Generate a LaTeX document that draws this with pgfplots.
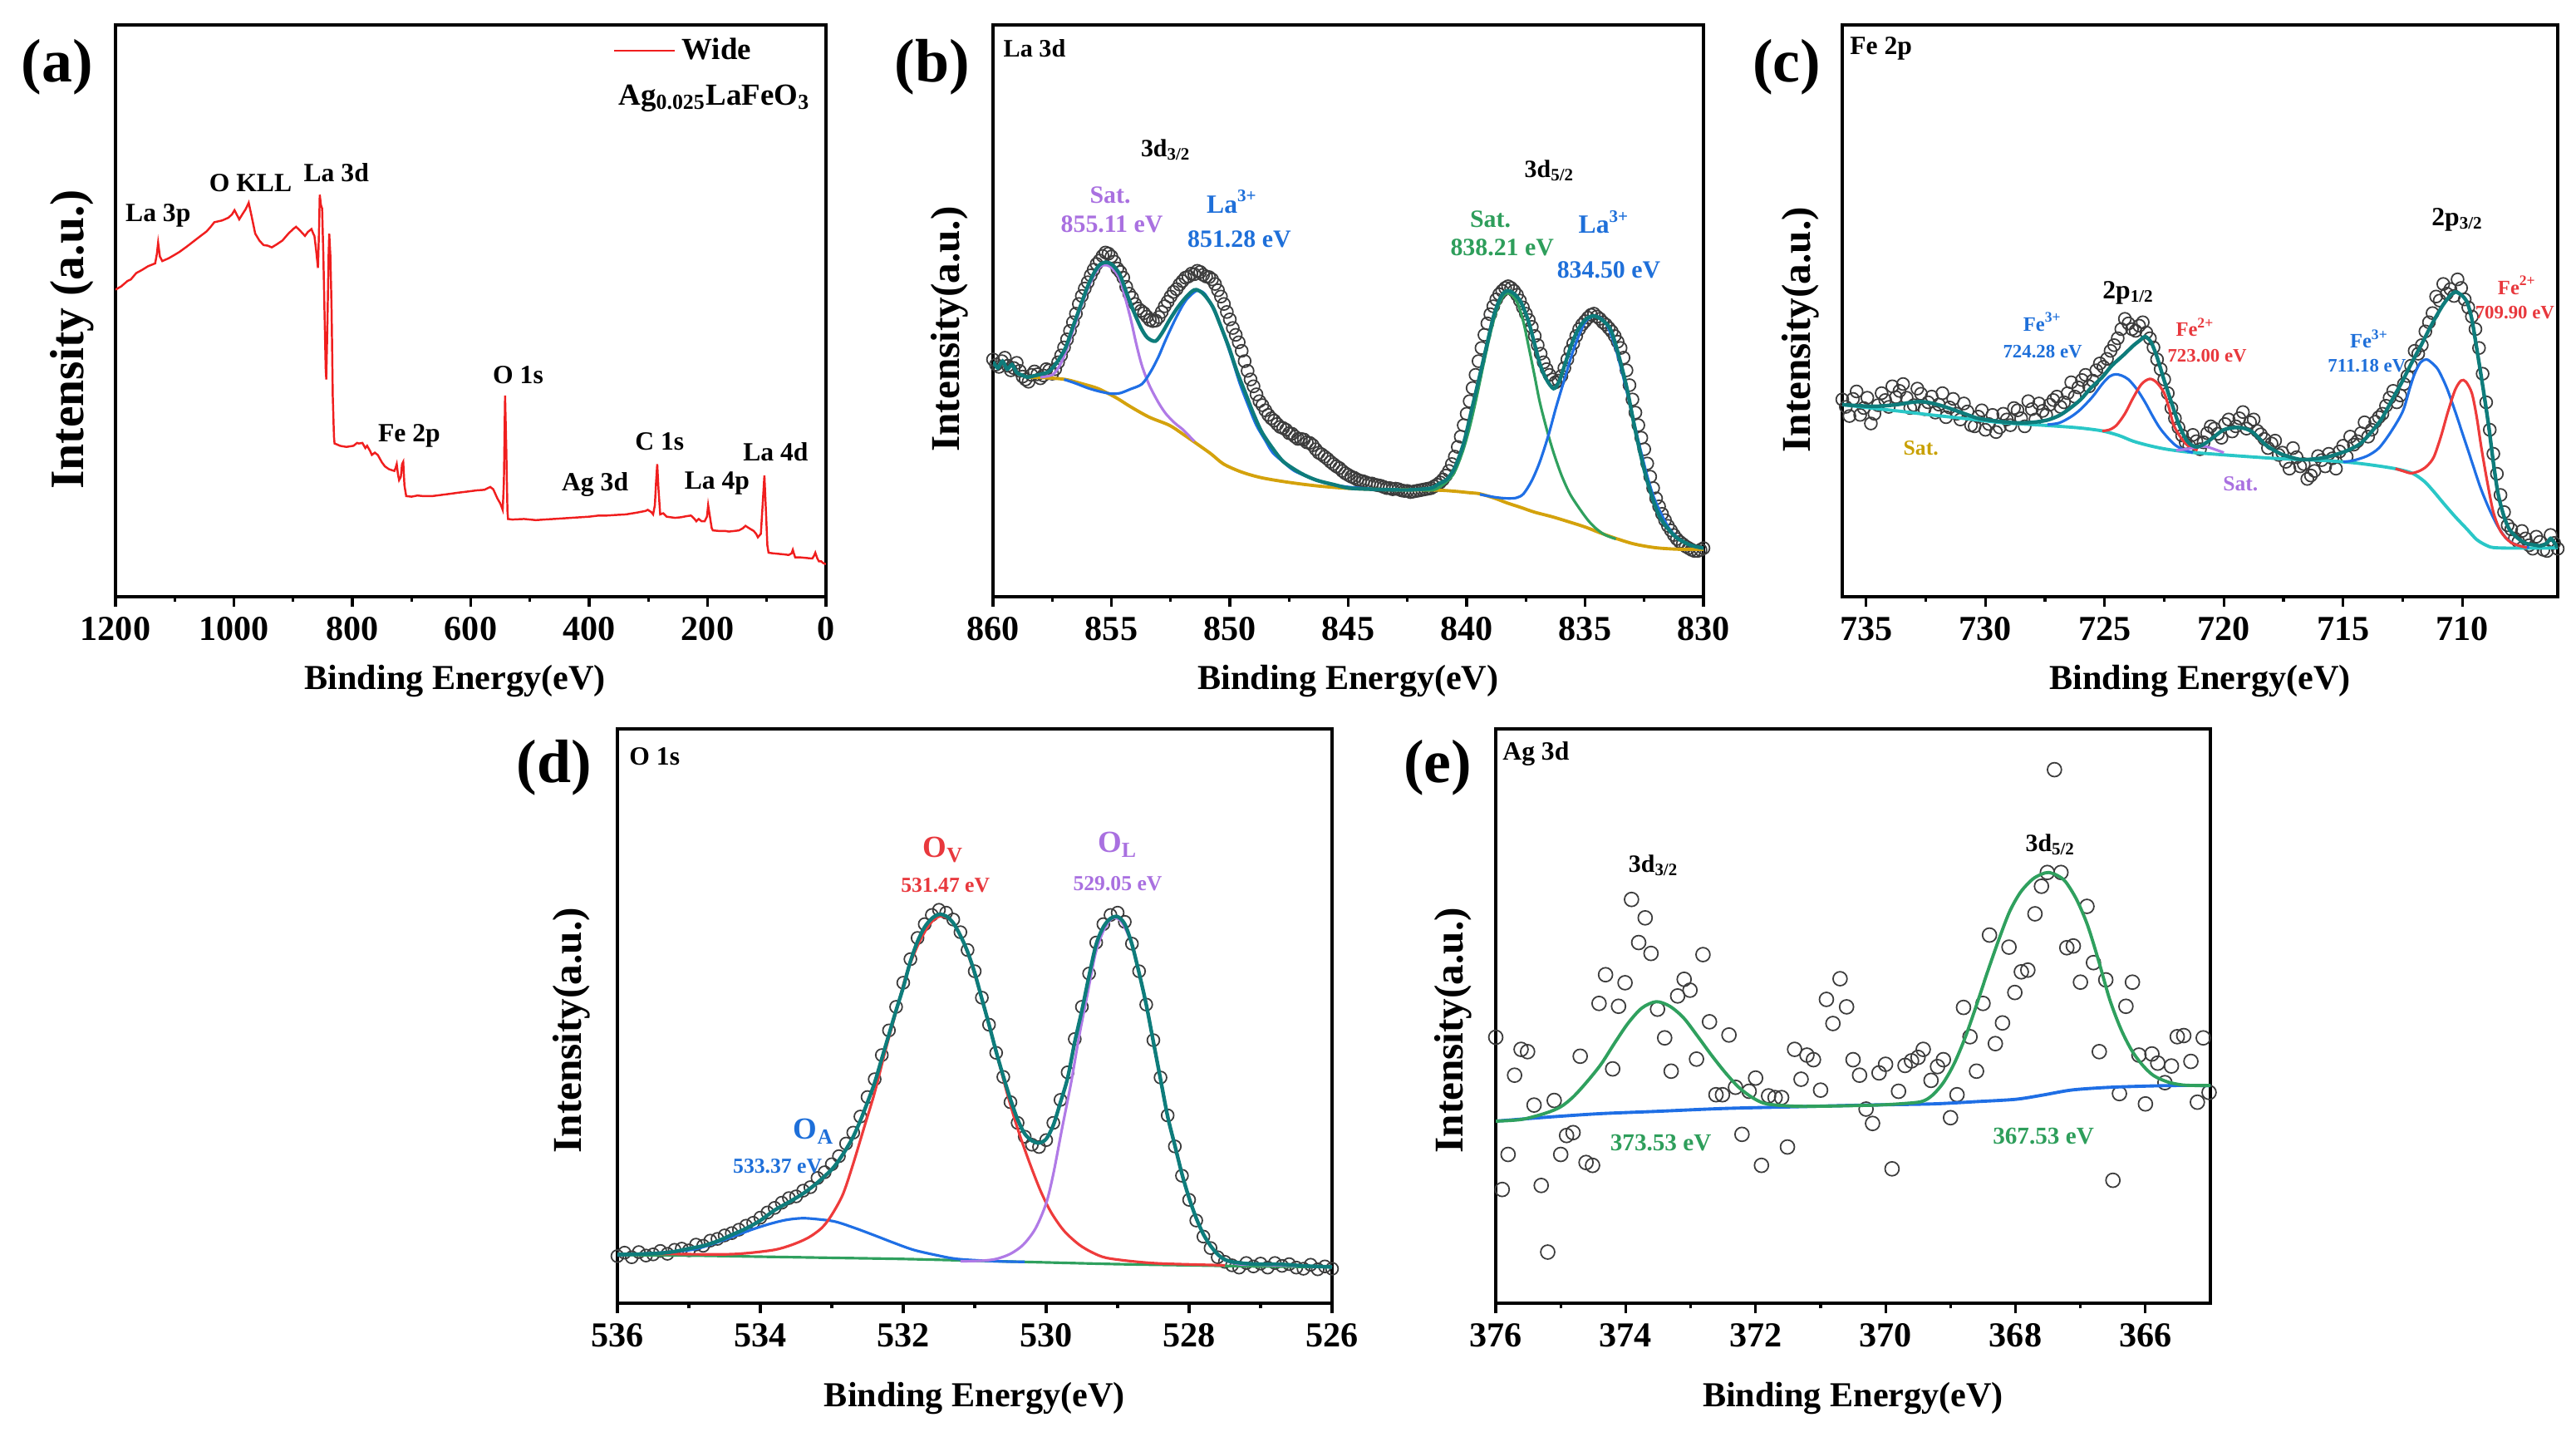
\documentclass[border=0pt]{standalone}
\usepackage{fontspec}
\setmainfont{Liberation Serif}
\usepackage{pgfplots}
\pgfplotsset{compat=1.18}
\newcommand{\fs}[1]{\fontsize{#1}{#1}\selectfont\bfseries}
\definecolor{teal1}{HTML}{0E7C7B}
\definecolor{blu}{HTML}{1F6FE5}
\definecolor{redc}{HTML}{EE3B3B}
\definecolor{purp}{HTML}{B07AE6}
\definecolor{grn}{HTML}{2FA05E}
\definecolor{goldc}{HTML}{D4A20C}
\definecolor{cyanc}{HTML}{2AC7C7}
\definecolor{redw}{HTML}{F01E1E}
\definecolor{circ}{HTML}{3C3C3C}
\definecolor{lblue}{HTML}{1E6FD9}
\definecolor{lpurp}{HTML}{A970E0}
\definecolor{lgrn}{HTML}{2E9E5B}
\definecolor{lred}{HTML}{E8383D}
\definecolor{lgold}{HTML}{C8A000}
\pgfplotsset{
  xps/.style={
    scale only axis, x dir=reverse, ymin=0, ymax=100, ytick=\empty,
    tick align=outside, xtick pos=left, minor x tick num=1,
    major tick length=1.2mm, minor tick length=0.6mm,
    every tick/.style={black, line width=0.9pt},
    axis line style={line width=0.95pt},
    /pgf/number format/assume math mode=true,
    /pgf/number format/1000 sep={},
    xticklabel style={font=\fs{12}},
    xlabel={Binding Energy(eV)},
    xlabel style={font=\fs{12}, anchor=center},
    ylabel style={font=\fs{14}, anchor=center},
    clip mode=individual,
  },
  dat/.style={only marks, mark=o, mark size=2.1pt, mark options={draw=circ, line width=0.5pt}},
  fit/.style={line width=0.9pt, smooth, tension=0.5, no marks},
  env/.style={line width=1.25pt, smooth, tension=0.5, no marks, teal1},
}
\begin{document}
\begin{tikzpicture}
\useasboundingbox (0,0) rectangle (310mm,172.8mm);
% ---------------- (a) ----------------
\begin{axis}[xps, at={(13.9mm,101.0mm)}, anchor=south west, width=85.5mm, height=68.8mm,
  xmin=0, xmax=1200, xtick={0,200,...,1200},
  ylabel={Intensity (a.u.)}, ylabel style={font=\fs{16.4}, at={(axis description cs:-0.061,0.45)}},
  xlabel style={at={(axis description cs:0.478,-0.147)}},
  legend style={draw=none, fill=none, at={(axis description cs:0.700,0.955)}, anchor=west, font=\fs{10.5}, inner sep=0pt},
  legend image code/.code={\draw[#1] (0mm,0mm) -- (7.3mm,0mm);}]
\addplot[redw, line width=0.7pt, no marks] coordinates {
(1200,53.7) (1190,54.3) (1180,55.2) (1174,55.5) (1165,56.6) (1156,57.1) (1145,57.8) (1133,58.3) (1130,60.0) (1128,61.9) (1125,59.5) (1121,58.7) (1110,59.2) (1100,59.8) (1092,60.3) (1080,61.2) (1070,62.0) (1060,62.8) (1046,63.9) (1040,64.6) (1033,65.5) (1020,65.8) (1009,66.3) (1003,66.9) (999,67.6) (995,66.8) (991,66.0) (985,67.0) (980,67.8) (975,68.9) (970,66.5) (964,63.5) (957,62.3) (950,61.5) (943,61.4) (936,61.1) (928,61.6) (918,62.3) (908,63.5) (900,64.3) (895,64.7) (888,64.0) (880,63.1) (875,63.8) (869,64.3) (866,63.5) (864,63.1) (861,60.5) (858,57.5) (856,65) (855,70.3) (853,68.5) (851,67.9) (849,60) (847,50) (845,40) (844,38.0) (842,48) (840,60) (839,63.5) (837,59.5) (835,50) (833,35) (831,28) (830,26.8) (825,26.6) (821,26.4) (810,26.2) (798,26.4) (792,26.9) (789,26.8) (783,26.9) (778,26.0) (775,26.4) (770,25.5) (767,24.8) (762,25.2) (757,24.8) (750,23.5) (745,22.8) (738,22.3) (729,22.0) (727,22.5) (725,23.2) (723,21.5) (721,20.4) (718,21) (716,23.2) (714,23.6) (712,19.5) (709,17.6) (700,17.5) (690,17.7) (680,17.6) (665,17.6) (650,17.8) (635,18.0) (621,18.2) (605,18.4) (590,18.6) (577,18.7) (567,19.2) (562,18.8) (555,17.2) (550,16.3) (546,15.2) (544,20) (542,35.2) (540,26) (538,15) (537,13.6) (530,13.5) (510,13.6) (490,13.4) (476,13.5) (460,13.6) (445,13.7) (430,13.8) (415,13.9) (400,14.0) (384,14.2) (370,14.2) (355,14.3) (338,14.4) (320,14.7) (305,15.0) (301,15.2) (295,14.8) (292,14.4) (289,16) (287,20) (285,23.2) (283,19) (280,14.4) (275,14.6) (269,14.0) (262,13.9) (255,13.8) (245,13.9) (235,14.1) (228,14.2) (222,13.6) (219,13.2) (215,13.6) (210,13.2) (205,13.2) (201,14) (199,16.0) (196,14) (193,12.0) (191,11.6) (180,11.5) (170,11.5) (164,11.4) (155,11.5) (147,11.6) (140,12.0) (136,12.4) (130,12.0) (122,11.5) (118,11.0) (115,10.4) (110,11) (107,16) (104,21.2) (101,14) (99,9) (97,7.7) (90,7.6) (80,7.5) (70,7.4) (63,7.3) (58,7.6) (56,8.2) (54,7.5) (52,6.9) (45,6.9) (35,6.8) (25,6.7) (23,6.7) (20,7.2) (18,7.7) (15,6.8) (12,6.2) (8,6.2) (5,5.9) (0,5.7)};
\addlegendentry{Wide}
\node[font=\fs{10.5}] at (axis description cs:0.843,0.872) {Ag\textsubscript{0.025}LaFeO\textsubscript{3}};
\node[font=\fs{9}] at (axis cs:1128,66.7) {La 3p};
\node[font=\fs{9}] at (axis cs:972,72.4) {O KLL};
\node[font=\fs{9}] at (axis cs:827,74.2) {La 3d};
\node[font=\fs{9}] at (axis cs:704,28.2) {Fe 2p};
\node[font=\fs{9}] at (axis cs:520,38.8) {O 1s};
\node[font=\fs{9}] at (axis cs:390,19.6) {Ag 3d};
\node[font=\fs{9}] at (axis cs:281,27.2) {C 1s};
\node[font=\fs{9}] at (axis cs:184,19.8) {La 4p};
\node[font=\fs{9}] at (axis cs:85,25.4) {La 4d};
\end{axis}
% ---------------- (b) ----------------
\begin{axis}[xps, at={(119.5mm,101.0mm)}, anchor=south west, width=85.5mm, height=68.8mm,
  xmin=830, xmax=860, xtick={830,835,...,860},
  ylabel={Intensity(a.u.)}, ylabel style={at={(axis description cs:-0.061,0.468)}},
  xlabel style={at={(axis description cs:0.5,-0.147)}}]
\addplot[dat] coordinates {
(860.00,41.5) (859.75,40.2) (859.50,41.8) (859.25,39.6) (859.00,40.9) (858.75,38.5) (858.50,37.6) (858.25,39.4) (858.00,38.2) (857.75,39.8) (857.50,39.0) (857.25,41.0) (857.00,43.6) (856.75,46.5) (856.50,49.5) (856.25,52.6) (856.00,55.0) (855.75,57.2) (855.50,58.8) (855.25,60.2) (855.00,59.5) (854.75,57.4) (854.50,55.8) (854.25,53.0) (854.00,51.2) (853.75,50.0) (853.50,49.0) (853.25,48.2) (853.00,48.9) (852.75,50.8) (852.50,52.5) (852.25,53.8) (852.00,55.2) (851.75,56.0) (851.50,56.4) (851.25,56.8) (851.00,56.0) (850.75,55.5) (850.50,53.6) (850.25,51.2) (850.00,48.5) (849.75,45.8) (849.50,43.0) (849.25,39.5) (849.00,36.8) (848.75,34.2) (848.50,32.6) (848.25,31.2) (848.00,30.2) (847.75,29.5) (847.50,28.6) (847.25,28.0) (847.00,27.6) (846.75,27.0) (846.50,26.5) (846.25,25.2) (846.00,24.5) (845.75,23.6) (845.50,22.8) (845.25,22.0) (845.00,21.3) (844.75,20.8) (844.50,20.3) (844.25,20.0) (844.00,19.8) (843.75,19.5) (843.50,19.2) (843.25,19.0) (843.00,18.9) (842.75,18.6) (842.50,18.5) (842.25,18.4) (842.00,18.6) (841.75,18.8) (841.50,19.0) (841.25,19.6) (841.00,20.5) (840.75,22.0) (840.50,24.5) (840.25,28.0) (840.00,32.0) (839.75,36.5) (839.50,41.2) (839.25,45.8) (839.00,49.4) (838.75,52.0) (838.50,53.5) (838.25,54.3) (838.00,53.5) (837.75,51.8) (837.50,49.5) (837.25,47.2) (837.00,44.0) (836.75,41.0) (836.50,38.8) (836.25,37.5) (836.00,38.6) (835.75,41.5) (835.50,44.3) (835.25,46.8) (835.00,48.2) (834.75,49.3) (834.50,49.0) (834.25,48.0) (834.00,47.0) (833.75,45.6) (833.50,43.5) (833.25,39.6) (833.00,34.5) (832.75,30.0) (832.50,25.8) (832.25,21.0) (832.00,17.2) (831.75,14.5) (831.50,12.4) (831.25,10.8) (831.00,9.6) (830.75,8.8) (830.50,8.2) (830.25,8.0) (830.00,8.5)
(859.875,40.6) (859.625,41.2) (859.375,40.4) (859.125,40.0) (858.875,39.5) (858.625,38.0) (858.375,38.8) (858.125,38.9) (857.875,38.7) (857.625,39.6) (857.375,39.8) (857.125,42.2) (856.875,45.0) (856.625,48.0) (856.375,51.2) (856.125,53.9) (855.875,56.2) (855.625,58.2) (855.375,59.6) (855.125,60.0) (854.875,58.6) (854.625,56.8) (854.375,54.2) (854.125,52.3) (853.875,50.4) (853.625,49.6) (853.375,48.4) (853.125,48.3) (852.875,49.8) (852.625,51.6) (852.375,53.3) (852.125,54.6) (851.875,55.8) (851.625,56.5) (851.375,57.0) (851.125,56.3) (850.875,55.9) (850.625,54.7) (850.375,52.5) (850.125,49.8) (849.875,47.0) (849.625,44.5) (849.375,41.2) (849.125,38.0) (848.875,35.4) (848.625,33.5) (848.375,31.8) (848.125,30.8) (847.875,29.7) (847.625,29.2) (847.375,28.5) (847.125,27.6) (846.875,27.5) (846.625,26.9) (846.375,25.8) (846.125,24.9) (845.875,24.1) (845.625,23.2) (845.375,22.5) (845.125,21.6) (844.875,21.0) (844.625,20.5) (844.375,20.2) (844.125,19.8) (843.875,19.6) (843.625,19.4) (843.375,19.0) (843.125,18.8) (842.875,18.8) (842.625,18.5) (842.375,18.3) (842.125,18.5) (841.875,18.7) (841.625,18.9) (841.375,19.3) (841.125,20.0) (840.875,21.2) (840.625,23.2) (840.375,26.2) (840.125,30.0) (839.875,34.2) (839.625,38.8) (839.375,43.5) (839.125,47.8) (838.875,50.8) (838.625,52.9) (838.375,54.0) (838.125,54.0) (837.875,52.8) (837.625,50.6) (837.375,48.4) (837.125,45.6) (836.875,42.5) (836.625,39.8) (836.375,38.0) (836.125,37.8) (835.875,40.0) (835.625,43.0) (835.375,45.6) (835.125,47.6) (834.875,48.8) (834.625,49.5) (834.375,48.6) (834.125,47.6) (833.875,46.4) (833.625,44.6) (833.375,41.8) (833.125,37.0) (832.875,32.2) (832.625,27.8) (832.375,23.3) (832.125,19.0) (831.875,15.8) (831.625,13.4) (831.375,11.6) (831.125,10.1) (830.875,9.2) (830.625,8.5) (830.375,8.0) (830.125,8.2)};
\addplot[fit, goldc, line width=1.1pt] coordinates {
(858.55,38.4) (857.8,38.3) (856.94,38.0) (856.2,37.2) (855.56,36.4) (854.8,34.8) (854.18,33.2) (853.4,31.4) (852.56,30.0) (852.0,28.5) (851.41,26.8) (850.8,25.0) (850.26,23.2) (849.5,21.8) (848.65,20.8) (847.5,20.0) (846.35,19.4) (845.2,19.0) (844.05,18.8) (843.0,18.7) (841.75,18.7) (841.0,18.6) (840.37,18.4) (839.9,18.2) (839.44,18.0) (838.8,17.2) (838.29,16.4) (837.7,15.6) (837.14,14.8) (836.4,14.0) (835.76,13.2) (835.0,12.2) (834.38,11.2) (833.7,10.2) (833.0,9.3) (832.4,8.8) (831.85,8.5) (831.0,8.3) (830.0,8.3)};
\addplot[fit, purp] coordinates {
(858.0,38.4) (857.5,38.8) (857.2,40.3) (856.94,42.7) (856.6,46.8) (856.25,51.1) (855.95,54.3) (855.67,56.7) (855.45,57.8) (855.21,58.0) (854.95,57.4) (854.64,55.5) (854.4,52.0) (854.17,48.3) (853.95,44.2) (853.71,40.4) (853.4,37.0) (853.02,34.0) (852.7,32.0) (852.33,30.4) (852.0,29.3) (851.76,28.3) (851.5,27.2)};
\addplot[fit, blu] coordinates {
(857.0,38.0) (856.5,37.3) (856.0,36.5) (855.5,35.9) (855.0,35.5) (854.64,35.6) (854.2,36.3) (853.71,37.2) (853.35,39.3) (853.02,41.9) (852.7,45.0) (852.33,48.3) (852.0,50.9) (851.76,52.3) (851.41,53.5) (851.15,53.3) (850.95,52.3) (850.6,49.5) (850.26,45.9) (849.9,41.5) (849.57,37.2) (849.2,33.2) (848.88,30.0) (848.5,27.3) (848.19,25.2) (847.7,23.4) (847.27,22.0) (846.6,20.8) (845.89,19.8) (845.0,19.2) (844.05,18.9)};
\addplot[fit, grn] coordinates {
(842.0,18.7) (841.3,18.8) (840.6,21.2) (840.2,25.0) (839.9,29.2) (839.6,34.5) (839.3,40.4) (839.0,46.0) (838.75,49.9) (838.5,52.3) (838.29,53.1) (838.05,52.6) (837.83,51.1) (837.6,48.0) (837.37,43.5) (837.14,38.8) (836.91,34.0) (836.6,29.0) (836.33,25.2) (836.0,21.3) (835.64,18.0) (835.2,15.2) (834.84,13.2) (834.5,11.8) (834.15,10.8) (833.7,10.1)};
\addplot[fit, blu] coordinates {
(839.44,17.9) (838.8,17.4) (838.29,17.2) (837.9,17.3) (837.6,18.0) (837.25,20.3) (836.91,23.6) (836.55,28.2) (836.22,33.2) (835.85,38.3) (835.53,42.7) (835.2,46.3) (834.95,48.3) (834.61,49.1) (834.3,48.6) (834.03,47.1) (833.75,44.0) (833.46,39.6) (833.1,33.5) (832.77,27.6) (832.4,21.5) (832.08,17.2) (831.7,13.8) (831.39,11.6) (831.0,10.0) (830.46,8.9) (830.0,8.5)};
\addplot[env] coordinates {
(860,41.1) (859.8,40.0) (859.6,41.2) (859.4,39.8) (859.2,40.6) (859.0,39.2) (858.8,38.8) (858.55,38.4) (858.3,38.6) (857.9,39.0) (857.63,39.4) (857.3,41.0) (856.94,43.5) (856.6,47.5) (856.25,51.5) (855.95,54.8) (855.67,57.1) (855.45,58.2) (855.21,58.5) (854.95,58.0) (854.64,56.3) (854.35,53.0) (854.06,49.9) (853.75,47.0) (853.48,45.3) (853.14,44.7) (852.85,46.2) (852.56,48.3) (852.2,50.6) (851.87,52.3) (851.6,53.4) (851.41,53.7) (851.1,52.9) (850.72,50.7) (850.4,47.5) (850.03,43.5) (849.7,39.4) (849.34,35.6) (849.0,32.0) (848.65,28.8) (848.2,26.0) (847.73,23.6) (847.0,21.6) (846.35,20.4) (845.6,19.6) (844.96,19.0) (844.0,18.8) (843.12,18.7) (842.3,18.7) (841.51,19.0) (841.15,19.8) (840.82,20.6) (840.5,22.6) (840.13,26.8) (839.8,32.5) (839.44,38.8) (839.15,44.0) (838.86,49.1) (838.55,52.5) (838.29,53.5) (838.0,53.0) (837.71,51.5) (837.4,48.3) (837.14,44.3) (836.9,40.6) (836.63,38.0) (836.33,36.4) (836.1,37.6) (835.87,40.4) (835.6,43.8) (835.30,46.7) (834.95,48.6) (834.61,49.1) (834.25,48.3) (833.92,46.7) (833.6,42.5) (833.23,36.4) (832.9,29.5) (832.54,22.8) (832.2,17.8) (831.85,14.0) (831.5,11.9) (831.16,10.4) (830.8,9.5) (830.46,8.9) (830.0,8.5)};
\node[font=\fs{8.6}, anchor=west, inner sep=0pt] at (axis description cs:0.014,0.959) {La 3d};
\node[font=\fs{8.5}] at (axis cs:852.7,78.2) {3d\textsubscript{3/2}};
\node[font=\fs{8.5}, text=lpurp] at (axis cs:855.05,70.3) {Sat.};
\node[font=\fs{8.5}, text=lpurp] at (axis cs:854.98,65.2) {855.11 eV};
\node[font=\fs{9}, text=lblue] at (axis cs:849.9,69.1) {La\textsuperscript{3+}};
\node[font=\fs{8.5}, text=lblue] at (axis cs:849.6,62.5) {851.28 eV};
\node[font=\fs{8.5}] at (axis cs:836.5,74.5) {3d\textsubscript{5/2}};
\node[font=\fs{8.5}, text=lgrn] at (axis cs:839.0,66.0) {Sat.};
\node[font=\fs{8.5}, text=lgrn] at (axis cs:838.5,61.1) {838.21 eV};
\node[font=\fs{9}, text=lblue] at (axis cs:834.2,65.5) {La\textsuperscript{3+}};
\node[font=\fs{8.5}, text=lblue] at (axis cs:834.0,57.1) {834.50 eV};
\end{axis}
% ---------------- (c) ----------------
\begin{axis}[xps, at={(221.7mm,101.0mm)}, anchor=south west, width=86.1mm, height=68.8mm,
  xmin=706, xmax=736, xtick={710,715,...,735},
  ylabel={Intensity(a.u.)}, ylabel style={at={(axis description cs:-0.058,0.467)}},
  xlabel style={at={(axis description cs:0.5,-0.147)}}]
\addplot[dat] coordinates {
(736.0,34.5) (735.7,31.6) (735.4,35.9) (735.1,33.0) (734.8,30.3) (734.5,33.5) (734.2,34.4) (733.9,36.8) (733.6,36.0) (733.3,34.8) (733.0,33.5) (732.7,35.5) (732.4,34.0) (732.1,32.2) (731.8,35.6) (731.5,33.1) (731.2,32.0) (730.9,33.8) (730.6,30.0) (730.3,31.5) (730.0,29.2) (729.7,31.8) (729.4,29.6) (729.1,31.0) (728.8,33.0) (728.5,31.2) (728.2,34.2) (727.9,31.0) (727.6,32.5) (727.3,33.6) (727.0,35.0) (726.7,34.0) (726.4,37.5) (726.1,36.6) (725.8,38.8) (725.5,37.8) (725.2,40.8) (724.9,41.6) (724.6,44.0) (724.3,46.8) (724.0,47.8) (723.7,46.5) (723.4,48.0) (723.1,45.2) (722.8,41.5) (722.5,38.0) (722.2,33.0) (721.9,29.6) (721.6,27.0) (721.3,28.3) (721.0,25.8) (720.7,28.6) (720.4,29.4) (720.1,27.8) (719.8,31.0) (719.5,29.8) (719.2,32.3) (718.9,30.5) (718.6,29.0) (718.3,27.6) (718.0,26.8) (717.7,24.8) (717.4,23.6) (717.1,26.0) (716.8,22.8) (716.5,20.6) (716.2,22.0) (715.9,23.9) (715.6,25.0) (715.3,22.4) (715.0,26.4) (714.7,28.0) (714.4,27.2) (714.1,30.5) (713.8,29.2) (713.5,31.4) (713.2,33.4) (712.9,36.0) (712.6,35.2) (712.3,38.6) (712.0,43.0) (711.7,44.0) (711.4,48.0) (711.1,52.5) (710.8,54.7) (710.5,53.8) (710.2,55.5) (709.9,52.0) (709.6,49.0) (709.3,43.5) (709.0,34.0) (708.7,25.0) (708.4,17.8) (708.1,12.5) (707.8,10.2) (707.5,11.5) (707.2,9.0) (706.9,10.5) (706.6,8.2) (706.3,10.8) (706.0,8.4)
(735.85,33.2) (735.55,34.6) (735.25,31.8) (734.95,34.8) (734.65,32.0) (734.35,35.6) (734.05,33.2) (733.75,34.9) (733.45,37.2) (733.15,33.0) (732.85,36.4) (732.55,32.8) (732.25,35.0) (731.95,33.6) (731.65,31.4) (731.35,34.6) (731.05,31.0) (730.75,32.4) (730.45,29.8) (730.15,32.6) (729.85,30.2) (729.55,28.8) (729.25,32.0) (728.95,30.0) (728.65,32.6) (728.35,29.8) (728.05,32.8) (727.75,33.8) (727.45,31.8) (727.15,34.4) (726.85,33.2) (726.55,35.6) (726.25,35.0) (725.95,37.9) (725.65,36.8) (725.35,39.6) (725.05,40.2) (724.75,43.0) (724.45,45.2) (724.15,48.6) (723.85,46.8) (723.55,47.4) (723.25,46.2) (722.95,43.6) (722.65,39.8) (722.35,35.6) (722.05,31.2) (721.75,28.2) (721.45,26.4) (721.15,27.2) (720.85,27.0) (720.55,29.8) (720.25,28.5) (719.95,30.2) (719.65,28.9) (719.35,31.2) (719.05,29.4) (718.75,31.0) (718.45,28.4) (718.15,26.0) (717.85,27.3) (717.55,25.2) (717.25,22.4) (716.95,24.4) (716.65,23.2) (716.35,21.2) (716.05,24.6) (715.75,22.8) (715.45,24.2) (715.15,25.4) (714.85,24.5) (714.55,26.6) (714.25,28.6) (713.95,28.0) (713.65,30.6) (713.35,32.0) (713.05,34.8) (712.75,34.0) (712.45,37.2) (712.15,40.4) (711.85,42.5) (711.55,46.4) (711.25,49.6) (710.95,51.8) (710.65,53.0) (710.35,52.6) (710.05,54.0) (709.75,50.6) (709.45,46.8) (709.15,39.0) (708.85,29.2) (708.55,21.5) (708.25,14.8) (707.95,11.8) (707.65,9.6) (707.35,10.2) (707.05,8.4) (706.75,9.6) (706.45,8.0) (706.15,9.4)};
\addplot[fit, cyanc, line width=1.1pt] coordinates {
(736.0,33.6) (734.8,33.0) (733.7,32.5) (732.5,31.9) (731.4,31.4) (730.3,30.9) (729.2,30.4) (728.0,30.1) (726.9,29.8) (726.0,29.5) (725.1,29.0) (724.4,28.2) (723.8,27.2) (723.1,26.4) (722.4,25.8) (721.5,25.3) (720.6,25.0) (719.3,24.6) (717.9,24.2) (716.8,24.0) (715.7,23.8) (714.5,23.4) (713.4,22.8) (712.7,22.3) (712.1,21.6) (711.6,20.2) (711.2,18.4) (710.8,16.4) (710.3,14.0) (709.8,11.8) (709.4,10.0) (709.0,9.0) (708.7,8.6) (708.0,8.5) (707.3,8.5) (706.5,8.5) (706.0,8.6)};
\addplot[fit, blu] coordinates {
(727.4,30.1) (726.9,30.4) (726.4,31.5) (726.0,32.8) (725.5,35.0) (725.1,37.2) (724.8,38.5) (724.55,38.9) (724.3,38.7) (724.0,38.0) (723.65,36.3) (723.3,34.0) (723.0,31.7) (722.7,29.6) (722.35,27.8) (722.0,26.4) (721.6,25.6) (721.3,25.2)};
\addplot[fit, redc] coordinates {
(725.1,29.0) (724.8,29.2) (724.5,30.0) (724.15,32.0) (723.8,34.8) (723.45,37.2) (723.1,38.1) (722.8,37.4) (722.5,35.6) (722.3,33.0) (722.1,30.0) (721.8,27.8) (721.5,26.4) (721.1,25.6)};
\addplot[fit, purp] coordinates {
(722.0,25.6) (721.6,25.8) (721.2,26.1) (720.8,26.3) (720.4,25.8) (720.0,25.2)};
\addplot[fit, blu] coordinates {
(715.0,23.6) (714.6,23.8) (714.0,24.6) (713.5,26.0) (713.0,28.8) (712.5,32.4) (712.2,36.5) (712.0,39.0) (711.75,41.0) (711.5,41.5) (711.25,40.8) (711.0,39.6) (710.65,36.5) (710.3,32.4) (709.95,28.0) (709.6,23.6) (709.25,19.2) (708.9,15.6) (708.55,12.6) (708.2,10.4) (707.9,9.4) (707.6,8.9) (707.2,8.6)};
\addplot[fit, redc] coordinates {
(712.8,22.4) (712.5,22.0) (712.15,21.6) (711.8,22.0) (711.5,22.8) (711.2,24.4) (710.9,28.0) (710.6,32.4) (710.3,36.2) (710.05,37.8) (709.85,37.6) (709.6,35.6) (709.4,31.5) (709.2,26.0) (708.95,20.0) (708.7,14.8) (708.4,11.5) (708.0,9.6) (707.6,8.9) (707.3,8.6)};
\addplot[env] coordinates {
(736.0,33.6) (735.3,33.4) (734.6,33.3) (733.7,33.6) (733.1,34.0) (732.6,34.1) (732.0,33.6) (731.4,32.8) (730.8,31.9) (730.3,31.2) (729.5,30.7) (728.7,30.4) (728.0,30.5) (727.4,30.9) (726.9,31.7) (726.5,32.8) (726.0,34.5) (725.6,36.4) (725.1,38.4) (724.7,40.4) (724.2,42.3) (723.8,43.9) (723.5,44.9) (723.3,45.5) (723.05,44.5) (722.8,41.9) (722.5,37.8) (722.2,34.0) (721.9,30.3) (721.6,27.6) (721.35,26.5) (721.1,26.2) (720.75,26.9) (720.4,28.0) (720.0,29.2) (719.5,29.6) (719.1,29.4) (718.8,28.8) (718.5,27.6) (718.2,26.4) (717.8,25.4) (717.5,24.8) (716.8,24.0) (716.2,24.1) (715.7,24.4) (715.2,25.0) (714.8,25.6) (714.3,26.7) (713.9,28.4) (713.4,31.0) (713.0,34.0) (712.5,37.8) (712.1,41.1) (711.7,44.2) (711.4,46.7) (711.1,49.0) (710.8,51.1) (710.5,52.7) (710.3,53.3) (710.05,52.8) (709.8,51.5) (709.6,48.5) (709.4,43.5) (709.15,37.0) (708.9,30.0) (708.7,23.5) (708.5,18.0) (708.25,14.0) (708.0,11.6) (707.6,10.0) (707.3,9.3) (706.9,9.0) (706.7,8.9) (706.45,9.4) (706.3,10.2) (706.15,9.5) (706.0,8.5)};
\node[font=\fs{9}, anchor=west, inner sep=0pt] at (axis description cs:0.010,0.959) {Fe 2p};
\node[font=\fs{9}] at (axis cs:724.0,53.1) {2p\textsubscript{1/2}};
\node[font=\fs{7}, text=lblue] at (axis cs:727.6,48.1) {Fe\textsuperscript{3+}};
\node[font=\fs{6.5}, text=lblue] at (axis cs:727.6,42.9) {724.28 eV};
\node[font=\fs{7}, text=lred] at (axis cs:721.2,47.1) {Fe\textsuperscript{2+}};
\node[font=\fs{6.5}, text=lred] at (axis cs:720.7,42.1) {723.00 eV};
\node[font=\fs{7.3}, text=lgold] at (axis cs:732.7,26.0) {Sat.};
\node[font=\fs{7.3}, text=lpurp] at (axis cs:719.3,19.8) {Sat.};
\node[font=\fs{9}] at (axis cs:710.2,65.9) {2p\textsubscript{3/2}};
\node[font=\fs{7}, text=lblue] at (axis cs:713.9,45.1) {Fe\textsuperscript{3+}};
\node[font=\fs{6.5}, text=lblue] at (axis cs:714.0,40.4) {711.18 eV};
\node[font=\fs{7}, text=lred] at (axis cs:707.7,54.5) {Fe\textsuperscript{2+}};
\node[font=\fs{6.5}, text=lred] at (axis cs:707.8,49.7) {709.90 eV};
\end{axis}
% ---------------- (d) ----------------
\begin{axis}[xps, at={(74.3mm,16.0mm)}, anchor=south west, width=86.0mm, height=69.1mm,
  xmin=526, xmax=536, xtick={526,528,...,536},
  ylabel={Intensity(a.u.)}, ylabel style={at={(axis description cs:-0.064,0.475)}},
  xlabel style={at={(axis description cs:0.5,-0.165)}}]
\addplot[dat] coordinates {
(536.0,8.2) (535.9,8.8) (535.8,8.0) (535.7,8.9) (535.6,8.3) (535.5,8.5) (535.4,9.1) (535.3,8.6) (535.2,9.3) (535.1,9.5) (535.0,9.2) (534.9,10.2) (534.8,10.0) (534.7,10.9) (534.6,11.2) (534.5,11.8) (534.4,12.2) (534.3,12.8) (534.2,13.5) (534.1,14.0) (534.0,14.9) (533.9,15.8) (533.8,16.6) (533.7,17.5) (533.6,18.3) (533.5,18.6) (533.4,19.6) (533.3,20.2) (533.2,21.8) (533.1,22.8) (533.0,24.2) (532.9,25.6) (532.8,27.8) (532.7,29.7) (532.6,32.5) (532.5,35.9) (532.4,39.0) (532.3,43.2) (532.2,47.5) (532.1,51.6) (532.0,55.8) (531.9,59.9) (531.8,63.6) (531.7,66.0) (531.6,67.6) (531.5,68.5) (531.4,68.0) (531.3,66.8) (531.2,64.6) (531.1,61.5) (531.0,57.8) (530.9,53.2) (530.8,48.5) (530.7,43.6) (530.6,39.4) (530.5,35.0) (530.4,31.4) (530.3,29.0) (530.2,27.6) (530.1,27.2) (530.0,28.4) (529.9,31.4) (529.8,35.4) (529.7,40.2) (529.6,46.0) (529.5,51.6) (529.4,57.4) (529.3,62.8) (529.2,66.0) (529.1,67.6) (529.0,68.0) (528.9,66.4) (528.8,62.6) (528.7,57.8) (528.6,52.0) (528.5,45.8) (528.4,39.3) (528.3,32.7) (528.2,27.3) (528.1,22.2) (528.0,18.0) (527.9,14.4) (527.8,11.6) (527.7,9.6) (527.6,8.0) (527.5,7.2) (527.4,6.6) (527.3,6.2) (527.2,7.0) (527.1,6.4) (527.0,6.9) (526.9,6.2) (526.8,7.0) (526.7,6.5) (526.6,6.8) (526.5,6.2) (526.4,6.0) (526.3,6.7) (526.2,5.9) (526.1,6.4) (526.0,6.0)};
\addplot[fit, grn] coordinates {
(536,8.4) (535,8.3) (534,8.1) (533,7.9) (532,7.7) (531,7.4) (530,7.1) (529,6.8) (528,6.6) (527,6.4) (526,6.3)};
\addplot[fit, blu] coordinates {
(536,8.4) (535.5,8.7) (534.96,9.3) (534.65,10.4) (534.34,11.8) (534.1,12.9) (533.87,13.8) (533.64,14.5) (533.41,14.8) (533.18,14.6) (532.95,14.2) (532.68,13.1) (532.40,11.8) (532.13,10.5) (531.86,9.3) (531.55,8.4) (531.24,7.7) (530.70,7.3) (530.3,7.2)};
\addplot[fit, redc] coordinates {
(535.5,8.6) (534.57,8.5) (534.2,8.7) (533.80,9.3) (533.55,10.2) (533.33,11.4) (533.15,13.0) (533.02,15.0) (532.85,18.8) (532.71,23.9) (532.55,30.5) (532.40,36.7) (532.25,44.0) (532.09,51.2) (531.95,57.5) (531.79,62.5) (531.63,66.0) (531.48,67.4) (531.32,66.5) (531.17,63.3) (531.02,58.0) (530.86,51.2) (530.7,43.8) (530.55,36.7) (530.4,30.4) (530.24,24.7) (530.08,19.6) (529.93,15.8) (529.75,12.6) (529.54,10.2) (529.35,8.8) (529.16,7.9) (528.8,7.3) (528.38,6.9) (527.5,6.6)};
\addplot[fit, purp] coordinates {
(531.2,7.3) (530.9,7.4) (530.7,7.7) (530.5,8.6) (530.32,10.2) (530.15,13.0) (530.0,17.4) (529.9,22.5) (529.78,30.3) (529.65,38.5) (529.54,46.4) (529.42,54.0) (529.31,60.9) (529.2,64.8) (529.08,67.0) (528.95,66.5) (528.8,62.5) (528.7,57.5) (528.6,52.0) (528.5,45.5) (528.4,39.0) (528.3,32.5) (528.2,27.5) (528.1,22.5) (528.0,18.3) (527.9,14.8) (527.8,12.0) (527.7,10.0) (527.6,8.5) (527.5,7.5) (527.3,6.8) (527.0,6.7) (526.5,6.5) (526.0,6.3)};
\addplot[env] coordinates {
(536.0,8.5) (535.8,8.5) (535.6,8.6) (535.4,8.7) (535.2,9.0) (535.0,9.5) (534.8,10.0) (534.6,10.8) (534.4,11.9) (534.2,13.0) (534.0,14.4) (533.8,16.2) (533.6,17.6) (533.4,19.1) (533.2,21.0) (533.0,23.3) (532.9,24.9) (532.8,26.8) (532.7,29.0) (532.6,31.8) (532.5,35.0) (532.4,38.4) (532.3,42.6) (532.2,46.8) (532.1,51.0) (532.0,55.0) (531.9,59.5) (531.8,63.0) (531.7,65.5) (531.6,67.0) (531.5,67.7) (531.4,67.4) (531.3,66.2) (531.2,64.0) (531.1,61.2) (531.0,57.5) (530.9,53.0) (530.8,48.5) (530.7,43.8) (530.6,39.5) (530.5,35.5) (530.4,32.0) (530.3,29.5) (530.2,28.3) (530.1,27.9) (530.0,28.6) (529.9,31.0) (529.8,35.0) (529.7,39.2) (529.6,45.5) (529.5,51.0) (529.4,57.0) (529.3,62.5) (529.2,65.5) (529.1,67.0) (529.0,67.3) (528.9,66.0) (528.8,62.5) (528.7,57.5) (528.6,52.0) (528.5,45.5) (528.4,39.0) (528.3,32.5) (528.2,27.5) (528.1,22.5) (528.0,18.3) (527.9,14.8) (527.8,12.0) (527.7,10.0) (527.6,8.5) (527.5,7.6) (527.4,7.2) (527.2,6.9) (527.0,6.8) (526.8,6.8) (526.6,6.7) (526.4,6.5) (526.2,6.4) (526.0,6.3)};
\node[font=\fs{9}, anchor=west, inner sep=0pt] at (axis description cs:0.016,0.952) {O 1s};
\node[font=\fs{10.5}, text=lred] at (axis cs:531.44,79.0) {O\textsubscript{V}};
\node[font=\fs{7.3}, text=lred] at (axis cs:531.41,72.8) {531.47 eV};
\node[font=\fs{10.5}, text=lpurp] at (axis cs:529.0,79.9) {O\textsubscript{L}};
\node[font=\fs{7.3}, text=lpurp] at (axis cs:529.0,73.0) {529.05 eV};
\node[font=\fs{10.5}, text=lblue] at (axis cs:533.25,29.9) {O\textsubscript{A}};
\node[font=\fs{7.3}, text=lblue] at (axis cs:533.76,23.9) {533.37 eV};
\end{axis}
% ---------------- (e) ----------------
\begin{axis}[xps, at={(180.0mm,16.0mm)}, anchor=south west, width=86.0mm, height=69.1mm,
  xmin=365, xmax=376, xtick={366,368,...,376},
  ylabel={Intensity(a.u.)}, ylabel style={at={(axis description cs:-0.060,0.475)}},
  xlabel style={at={(axis description cs:0.5,-0.165)}}]
\addplot[dat, mark size=2.4pt] coordinates {
(376.0,46.3) (375.9,19.8) (375.81,25.9) (375.71,39.7) (375.61,44.2) (375.51,43.8) (375.41,34.5) (375.30,20.5) (375.20,8.9) (375.10,35.3) (375.00,25.9) (374.91,29.2) (374.81,29.7) (374.70,43.0) (374.61,24.5) (374.51,24.0) (374.41,52.2) (374.31,57.2) (374.20,40.8) (374.11,51.7) (374.01,55.8) (373.91,70.3) (373.80,62.8) (373.70,67.1) (373.61,60.9) (373.51,51.2) (373.40,46.2) (373.30,40.4) (373.20,53.5) (373.10,56.4) (373.01,54.5) (372.91,42.5) (372.81,60.7) (372.71,49.0) (372.61,36.3) (372.51,36.3) (372.41,46.7) (372.31,37.6) (372.21,29.4) (372.10,36.9) (372.00,39.2) (371.91,24.0) (371.80,36.1) (371.70,35.8) (371.60,35.8) (371.51,27.2) (371.40,44.2) (371.30,39.0) (371.21,43.2) (371.11,42.4) (371.00,37.1) (370.91,52.9) (370.81,48.7) (370.70,56.5) (370.60,51.6) (370.50,42.4) (370.40,39.7) (370.30,33.8) (370.20,31.3) (370.10,40.1) (370.00,41.6) (369.90,23.4) (369.80,36.9) (369.70,41.4) (369.60,42.2) (369.50,42.8) (369.42,44.2) (369.30,38.8) (369.20,41.2) (369.11,42.4) (369.00,32.3) (368.90,36.3) (368.80,51.5) (368.70,46.4) (368.60,40.4) (368.50,52.2) (368.40,64.1) (368.31,45.2) (368.20,48.8) (368.10,62.0) (368.01,54.1) (367.91,57.7) (367.81,58.0) (367.70,67.8) (367.60,72.6) (367.51,75.0) (367.40,92.9) (367.30,75.0) (367.21,61.9) (367.11,62.2) (367.00,55.9) (366.90,69.1) (366.80,59.3) (366.71,43.8) (366.61,56.3) (366.50,21.4) (366.40,36.5) (366.30,51.7) (366.20,55.9) (366.10,43.2) (366.00,34.7) (365.90,43.4) (365.81,41.8) (365.70,38.4) (365.60,41.3) (365.51,46.4) (365.41,46.6) (365.30,42.1) (365.20,35.0) (365.11,46.2) (365.02,36.7)};
\addplot[fit, blu, line width=1.1pt] coordinates {
(376,31.7) (375.2,32.4) (374.4,33.0) (373.53,33.4) (372.5,33.9) (371.4,34.2) (370.3,34.5) (369.28,34.7) (368.6,35.1) (368.0,35.5) (367.6,36.2) (367.15,37.1) (366.7,37.5) (366.3,37.7) (365.6,37.9) (365.0,37.9)};
\addplot[fit, grn, line width=1.1pt] coordinates {
(376,31.7) (375.6,32.0) (375.23,33.1) (375.0,34.2) (374.81,35.9) (374.6,38.5) (374.38,41.6) (374.17,45.3) (373.96,48.8) (373.75,51.4) (373.53,52.5) (373.32,51.7) (373.11,49.7) (372.9,46.6) (372.68,43.2) (372.47,40.2) (372.26,37.6) (372.05,35.8) (371.83,34.7) (371.4,34.3) (370.98,34.3) (370.5,34.4) (370.13,34.5) (369.8,34.7) (369.45,35.1) (369.28,36.2) (369.11,38.4) (368.94,41.8) (368.77,46.4) (368.6,51.9) (368.43,57.7) (368.26,63.2) (368.09,68.2) (367.92,71.6) (367.74,73.8) (367.6,74.7) (367.49,75.0) (367.36,74.5) (367.23,73.4) (367.06,70.3) (366.89,65.8) (366.72,59.6) (366.55,52.9) (366.38,47.8) (366.21,44.0) (366.04,41.4) (365.87,39.6) (365.65,38.5) (365.43,38.0) (365.2,37.9) (365.0,37.9)};
\node[font=\fs{9}, anchor=west, inner sep=0pt] at (axis description cs:0.009,0.957) {Ag 3d};
\node[font=\fs{8.5}] at (axis cs:373.57,76.2) {3d\textsubscript{3/2}};
\node[font=\fs{8.5}] at (axis cs:367.46,79.9) {3d\textsubscript{5/2}};
\node[font=\fs{8.3}, text=lgrn] at (axis cs:373.46,27.9) {373.53 eV};
\node[font=\fs{8.3}, text=lgrn] at (axis cs:367.57,29.1) {367.53 eV};
\end{axis}
% panel letters
\node[font=\fs{21}] at (6.9mm,164.7mm) {(a)};
\node[font=\fs{21}] at (112.2mm,164.7mm) {(b)};
\node[font=\fs{21}] at (215.0mm,164.7mm) {(c)};
\node[font=\fs{21}] at (66.7mm,80.4mm) {(d)};
\node[font=\fs{21}] at (173.0mm,80.4mm) {(e)};
\end{tikzpicture}
\end{document}
